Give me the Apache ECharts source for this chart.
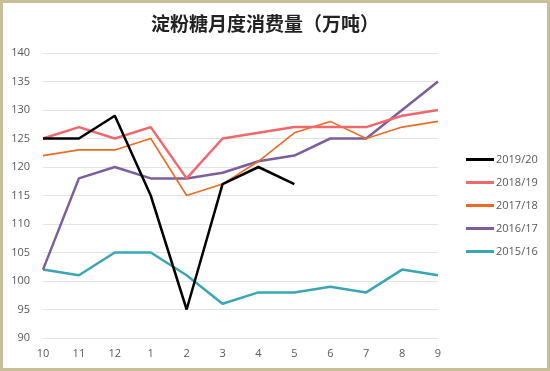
<!DOCTYPE html>
<html><head><meta charset="utf-8">
<script src="https://cdn.jsdelivr.net/npm/echarts@6/dist/echarts.min.js"></script>
<style>html,body{margin:0;padding:0;background:#fff}#c{width:550px;height:371px}</style>
</head><body><div id="c"></div>
<script>
const months = ['10','11','12','1','2','3','4','5','6','7','8','9'];
const s1920 = [125,125,129,115,95,117,120,117];
const s1819 = [125,127,125,127,118,125,126,127,127,127,129,130];
const s1718 = [122,123,123,125,115,117,121,126,128,125,127,128];
const s1617 = [102,118,120,118,118,119,121,122,125,125,130,135];
const s1516 = [102,101,105,105,101,96,98,98,99,98,102,101];
const names = ['2019/20','2018/19','2017/18','2016/17','2015/16'];
const colors = ['#000000','#f0676c','#ec6b24','#7b5f9c','#3ba6b3'];
const widths = [2.5,2.5,1.6,2.5,2.5];
const datas = [s1920,s1819,s1718,s1617,s1516];

const chart = echarts.init(document.getElementById('c'));
chart.setOption({
  animation:false,
  title:{text:'淀粉糖月度消费量（万吨）',left:146,top:9,
    textStyle:{fontFamily:'Noto Sans CJK SC',fontSize:19,fontWeight:'bold',color:'#222'}},
  graphic:[{type:'rect',shape:{x:1.5,y:1.5,width:547,height:368},
    style:{fill:'none',stroke:'#c8bf98',lineWidth:3},silent:true}],
  grid:{left:43,right:112,top:53,bottom:33},
  legend:{orient:'vertical',left:461,top:149,itemWidth:28,itemHeight:3,itemGap:12,icon:'rect',
    textStyle:{color:'#595959',fontSize:11,fontFamily:'Open Sans',padding:[0,0,0,-3]},
    data:names},
  xAxis:{type:'category',data:months,boundaryGap:false,
    axisLine:{show:false},axisTick:{show:false},
    axisLabel:{color:'#595959',fontSize:11,margin:10,fontFamily:'Open Sans'},
    splitLine:{show:false}},
  yAxis:{type:'value',min:90,max:140,interval:5,
    axisLine:{show:false},axisTick:{show:false},
    axisLabel:{color:'#595959',fontSize:11,margin:13,fontFamily:'Open Sans'},
    splitLine:{lineStyle:{color:'#e3e3e3',width:1}}},
  series:names.map((n,i)=>({name:n,type:'line',data:datas[i],symbol:'none',showSymbol:false,
    color:colors[i],lineStyle:{color:colors[i],width:widths[i]},z:10-i}))
});
</script></body></html>
